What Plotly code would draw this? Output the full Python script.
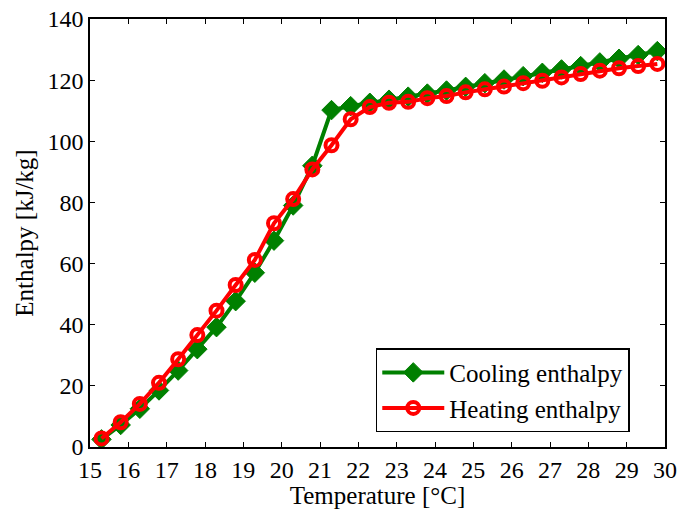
import plotly.graph_objects as go

temperature = [15.3, 15.8, 16.3, 16.8, 17.3, 17.8, 18.3, 18.8, 19.3, 19.8,
               20.3, 20.8, 21.3, 21.8, 22.3, 22.8, 23.3, 23.8, 24.3, 24.8,
               25.3, 25.8, 26.3, 26.8, 27.3, 27.8, 28.3, 28.8, 29.3, 29.8]

cooling_enthalpy = [2.5, 7.2, 12.5, 18.5, 25.0, 32.0, 39.2, 47.7, 57.0, 67.5,
                    79.0, 92.0, 110.2, 111.5, 112.6, 113.6, 114.6, 115.6, 116.6, 117.8,
                    119.0, 120.2, 121.3, 122.4, 123.5, 124.6, 125.8, 127.0, 128.2, 129.5]

heating_enthalpy = [2.8, 8.1, 14.1, 21.0, 28.7, 36.6, 44.6, 53.0, 61.2, 73.2,
                    81.1, 90.8, 98.7, 107.2, 111.2, 112.6, 112.9, 114.1, 114.8, 116.0,
                    117.0, 117.9, 119.0, 119.8, 120.9, 122.0, 123.1, 123.9, 124.6, 125.3]

x_ticks = list(range(15, 31))
y_ticks = list(range(0, 141, 20))

font_family = "Liberation Serif"

fig = go.Figure()
fig.add_trace(go.Scatter(
    x=temperature, y=cooling_enthalpy, name="Cooling enthalpy",
    mode="lines+markers",
    line=dict(color="#008000", width=4),
    marker=dict(symbol="diamond", size=15, color="#008000",
                line=dict(color="#008000", width=1)),
))
fig.add_trace(go.Scatter(
    x=temperature, y=heating_enthalpy, name="Heating enthalpy",
    mode="lines+markers",
    line=dict(color="#ff0000", width=4),
    marker=dict(symbol="circle-open", size=12, color="#ff0000",
                line=dict(color="#ff0000", width=4)),
))

axis_common = dict(
    showline=True, linecolor="black", linewidth=1.5, mirror="ticks",
    ticks="inside", ticklen=5, tickwidth=1, tickcolor="black",
    showgrid=False, zeroline=False, automargin=False,
    tickfont=dict(family=font_family, size=24, color="black"),
)

fig.update_xaxes(range=[15, 30], tickvals=x_ticks,
                 title=dict(text="Temperature [°C]", standoff=9,
                            font=dict(family=font_family, size=25, color="black")),
                 **axis_common)
fig.update_yaxes(range=[0, 140], tickvals=y_ticks,
                 title=dict(text="Enthalpy [kJ/kg]", standoff=7,
                            font=dict(family=font_family, size=25, color="black")),
                 **axis_common)

fig.update_layout(
    width=681, height=509,
    margin=dict(l=90, r=16, t=19, b=62, autoexpand=False),
    paper_bgcolor="white", plot_bgcolor="white",
    font=dict(family=font_family, size=24, color="black"),
    showlegend=True,
    legend=dict(x=0.497, y=0.231, xanchor="left", yanchor="top",
                bgcolor="white", bordercolor="black", borderwidth=1.5,
                font=dict(family=font_family, size=25, color="black"),
                tracegroupgap=0, itemwidth=62),
)

fig.write_html("out.html")
